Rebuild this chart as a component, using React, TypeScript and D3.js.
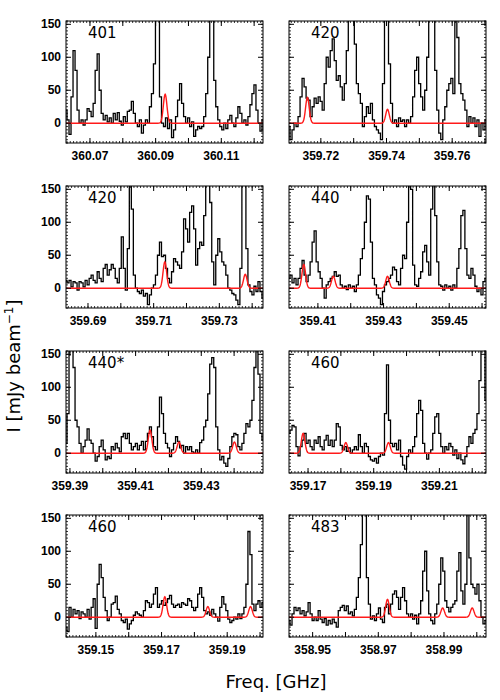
import React from 'react';
import * as d3 from 'd3';

// ---------- data ----------
const SPAN = 0.06; // GHz covered by each panel
const Y_MIN = -30;
const Y_MAX = 155;

const panelLabels = ['401', '420', '420', '440', '440*', '460', '460', '483'];
const panelStart = [360.0627, 359.7103, 359.6833, 359.4012, 359.3888, 359.1642, 359.1409, 358.9428];
const xTickLabels = [
  [360.07, 360.09, 360.11],
  [359.72, 359.74, 359.76],
  [359.69, 359.71, 359.73],
  [359.41, 359.43, 359.45],
  [359.39, 359.41, 359.43],
  [359.17, 359.19, 359.21],
  [359.15, 359.17, 359.19],
  [358.95, 358.97, 358.99],
];
const yTickLabels = [0, 50, 100, 150];

const spec401 = [20, 5, -17, 40, 110, 80, 20, 0, 5, -3, 5, 22, 18, 10, 30, 80, 105, 50, 15, 5, 12, 2, 8, 0, 15, 5, 16, 3, -3, 10, 2, 18, 20, 33, 15, 0, -5, 5, -15, -3, 5, 0, 25, 45, 90, 170, 170, 40, 0, -5, 8, -8, 5, -22, -10, 10, 35, 60, 30, 10, 0, 8, -5, 2, -20, -10, -5, -8, -5, 10, 45, 100, 170, 170, 65, 25, 5, -5, -10, 0, -8, 5, 12, 0, -5, 8, 25, 15, 0, 5, -3, 10, 28, 45, 58, 20, 0, -12, 5];
const spec420a = [-5, -25, -10, 0, -5, 10, 40, 68, 55, 38, 35, 10, 25, 38, 30, 40, 33, 20, 60, 100, 85, 110, 128, 95, 65, 72, 55, 35, 60, 110, 170, 170, 170, 120, 60, 45, 30, -5, 10, 25, 15, 30, 5, -5, -10, -15, -25, 60, 170, 170, 90, 30, 0, 5, -5, 8, 3, 5, -5, 5, 0, 10, 40, 80, 100, 60, 40, 20, 50, 100, 170, 170, 170, 80, 20, -15, -25, 5, 25, 50, 60, 68, 45, 170, 130, 60, 45, 35, 20, -5, 10, 0, 8, -5, 5, -20, 0, -10, 5];
const spec420b = [12, 8, 12, 2, 10, 8, -3, 10, 8, 2, 12, 5, 15, 20, 12, 8, 25, 15, 10, 30, 36, 20, 28, 36, 30, 15, 8, 30, 78, 30, -3, 60, 170, 120, 20, 0, -5, -8, -3, -12, -8, -25, -10, 0, 5, 20, 50, 70, 48, 50, 30, 15, 8, 25, 45, 40, 35, 30, 55, 105, 90, 70, 115, 125, 90, 35, 60, 70, 65, 110, 170, 170, 130, 40, 5, 50, 75, 55, 40, 35, 20, 0, -3, -8, -10, -18, -25, 30, 170, 170, 60, 5, -5, -10, 3, -5, 10, -5, -15];
const spec440a = [15, 20, 8, 15, 5, 15, 30, 42, 20, 10, 20, 40, 70, 87, 40, 25, 15, 0, -15, 5, 10, 15, 18, 25, 18, 20, 5, 0, 3, -2, 5, 0, 3, -5, 5, 20, 45, 60, 100, 140, 135, 70, 15, 5, -10, -15, -25, -5, 5, 10, 15, 20, 32, 28, 10, 5, 30, 50, 45, 100, 170, 150, 35, 5, 3, 15, 25, 55, 65, 40, 20, 120, 170, 110, 40, 5, 3, -3, 5, 0, 3, -3, 5, 0, 30, 60, 110, 118, 60, 20, 15, 30, 20, 3, -5, 0, -10, 10, 15];
const spec440b = [15, 60, 170, 170, 130, 50, 40, 15, 0, 10, 20, 37, 20, 15, 0, -12, -5, 10, 20, 5, -10, -5, -8, 10, 5, 15, 8, 2, 25, 30, 22, 30, 15, 5, 10, 15, 5, 12, 18, 5, 18, 30, 40, 25, 10, 5, 40, 85, 60, 30, 15, 8, -5, 5, 15, 25, 18, 8, 12, 0, 10, 5, 10, 2, 0, 5, 0, 16, 20, 40, 50, 90, 135, 145, 130, 40, 5, -10, -5, -15, -20, -8, 10, 25, 30, 28, 10, 5, 15, 30, 45, 40, 50, 80, 130, 170, 120, 30, 20];
const spec460a = [30, 35, 42, 40, 10, -4, 10, 20, 30, 15, 20, 10, 5, 20, 15, 25, 10, 5, 20, 27, 12, 20, 10, 20, 45, 40, 12, 5, 10, 3, 8, 0, 5, 10, 5, 28, 10, 0, 15, 10, -5, -10, -12, -8, -15, -5, 0, -3, 60, 134, 50, 15, 10, 15, 5, 20, -5, -18, -24, -5, 5, 0, 10, 25, 60, 80, 65, 15, 0, -9, 0, 5, 30, 55, 60, 30, 10, 0, 10, 5, 15, 10, -3, 5, -8, 0, -10, -16, -5, 10, 25, 15, 30, 36, 60, 110, 170, 170, 80];
const spec460b = [-15, -22, 15, 0, 12, 5, 10, -2, 8, 5, 0, 12, -3, 15, 28, -17, 50, 80, 60, 30, 10, -5, 0, 20, 22, 32, 12, 5, -5, -8, -3, -18, -10, -5, 3, 8, 5, 3, 0, 10, 25, 22, 15, 20, 35, 45, 15, 20, 25, 18, 22, 28, 33, 20, 15, 18, 20, 15, 22, 20, 18, 28, 25, 15, 10, 15, 35, 45, 30, 10, 5, 8, 3, 12, 5, 0, -6, 15, 31, 20, 10, -3, -8, -5, 0, -3, 5, -2, 5, 15, 50, 130, 95, 20, 10, 20, 25, 15, 22];
const spec483 = [-5, -12, 5, 15, 10, 14, 5, 10, 2, 8, 22, 5, -5, 0, -5, 10, -3, -8, -2, -12, -5, -10, -3, -8, -15, 10, 15, 18, 10, 17, 5, 8, 2, 12, 30, 60, 110, 170, 160, 60, 20, -3, 2, -5, 5, 14, -3, -8, 15, 20, 5, 20, 35, 40, 30, 12, 30, 45, 25, 5, 0, 5, -3, 3, -10, 5, 25, 70, 100, 40, 5, -5, -10, 5, 20, 50, 90, 70, 25, 15, 8, 15, 20, 25, 70, 98, 40, 20, 50, 170, 90, 50, 45, 35, 50, 25, 0, -10, -5];
const spectra = [spec401, spec420a, spec420b, spec440a, spec440b, spec460a, spec460b, spec483];

// red model lines: centres (GHz) and peak intensities (mJy/beam)
const lineCenters = [
  [360.0929],
  [359.7159, 359.7403],
  [359.7134, 359.7379],
  [359.4057, 359.4147, 359.4312],
  [359.4144, 359.4232, 359.4401],
  [359.1685, 359.1815, 359.1945],
  [359.1710, 359.1841, 359.1971],
  [358.9728, 358.9896, 358.9986],
];
const linePeaks = [
  [44],
  [39, 21],
  [40, 21],
  [36, 18, 18],
  [35, 17, 17],
  [30, 16, 16],
  [31, 16, 16],
  [27, 14, 14],
];
const LINE_SIGMA = 0.00055;

// ---------- layout ----------
const colX = [66, 289];
const PW = 197;
const rowY = [21, 186, 351, 515];
const PH = 122;

const tickFont = "'Liberation Sans', Arial, sans-serif";
const labelFont = "'DejaVu Sans', sans-serif";

function Panel({ idx }: { idx: number }) {
  const col = idx % 2;
  const row = Math.floor(idx / 2);
  const left = colX[col];
  const top = rowY[row];
  const f0 = panelStart[idx];
  const x = d3.scaleLinear().domain([f0, f0 + SPAN]).range([left, left + PW]);
  const y = d3.scaleLinear().domain([Y_MIN, Y_MAX]).range([top + PH, top]);
  const vals = spectra[idx];
  const n = vals.length;
  const pts: [number, number][] = vals.map((v, i) => [f0 + (i * SPAN) / (n - 1), v]);
  const specPath = d3
    .line<[number, number]>()
    .x((d) => x(d[0]))
    .y((d) => y(d[1]))
    .curve(d3.curveStep)(pts) as string;

  const modelPts: [number, number][] = d3.range(0, 601).map((k) => {
    const f = f0 + (k * SPAN) / 600;
    let s = 0;
    lineCenters[idx].forEach((c, j) => {
      s += linePeaks[idx][j] * Math.exp(-0.5 * ((f - c) / LINE_SIGMA) ** 2);
    });
    return [f, s];
  });
  const modelPath = d3
    .line<[number, number]>()
    .x((d) => x(d[0]))
    .y((d) => y(d[1]))(modelPts) as string;

  const majX = d3.range(Math.ceil(f0 / 0.01 - 1e-6), Math.floor((f0 + SPAN) / 0.01 + 1e-6) + 1).map((k) => k * 0.01);
  const minX = d3.range(Math.ceil(f0 / 0.001 - 1e-6), Math.floor((f0 + SPAN) / 0.001 + 1e-6) + 1).map((k) => k * 0.001);
  const majY = yTickLabels;
  const minY = d3.range(-30, 156, 5);
  const clipId = `clip${idx}`;

  return (
    <g>
      <defs>
        <clipPath id={clipId}>
          <rect x={left} y={top} width={PW} height={PH} />
        </clipPath>
      </defs>
      <g clipPath={`url(#${clipId})`}>
        <path d={specPath} fill="none" stroke="#000" strokeWidth={1.3} />
        <path d={modelPath} fill="none" stroke="#ff1a1a" strokeWidth={1.4} />
      </g>
      <rect x={left} y={top} width={PW} height={PH} fill="none" stroke="#000" strokeWidth={1} />
      {minX.map((f, i) => (
        <g key={`mx${i}`}>
          <line x1={x(f)} x2={x(f)} y1={top + PH} y2={top + PH - 2} stroke="#000" strokeWidth={0.8} />
          <line x1={x(f)} x2={x(f)} y1={top} y2={top + 2} stroke="#000" strokeWidth={0.8} />
        </g>
      ))}
      {majX.map((f, i) => (
        <g key={`Mx${i}`}>
          <line x1={x(f)} x2={x(f)} y1={top + PH} y2={top + PH - 5} stroke="#000" strokeWidth={1} />
          <line x1={x(f)} x2={x(f)} y1={top} y2={top + 5} stroke="#000" strokeWidth={1} />
        </g>
      ))}
      {minY.map((v, i) => (
        <g key={`my${i}`}>
          <line x1={left} x2={left + 2} y1={y(v)} y2={y(v)} stroke="#000" strokeWidth={0.8} />
          <line x1={left + PW} x2={left + PW - 2} y1={y(v)} y2={y(v)} stroke="#000" strokeWidth={0.8} />
        </g>
      ))}
      {majY.map((v, i) => (
        <g key={`My${i}`}>
          <line x1={left} x2={left + 5} y1={y(v)} y2={y(v)} stroke="#000" strokeWidth={1} />
          <line x1={left + PW} x2={left + PW - 5} y1={y(v)} y2={y(v)} stroke="#000" strokeWidth={1} />
          {col === 0 && (
            <text x={left - 5} y={y(v) + 4} textAnchor="end" fontFamily={tickFont} fontWeight="bold" fontSize={12}>
              {v}
            </text>
          )}
        </g>
      ))}
      {xTickLabels[idx].map((f, i) => (
        <text key={`xl${i}`} x={x(f)} y={top + PH + 17} textAnchor="middle" fontFamily={tickFont} fontWeight="bold" fontSize={12}>
          {f.toFixed(2)}
        </text>
      ))}
      <text x={left + 22} y={top + 17} fontFamily={labelFont} fontSize={15}>
        {panelLabels[idx]}
      </text>
    </g>
  );
}

export default function App() {
  return (
    <svg width={500} height={700} style={{ position: 'absolute', left: 0, top: 0, background: '#fff' }}>
      <rect x={0} y={0} width={500} height={700} fill="#fff" />
      {spectra.map((_, i) => (
        <Panel key={i} idx={i} />
      ))}
      <text x={276} y={688} textAnchor="middle" fontFamily={labelFont} fontSize={18}>
        Freq. [GHz]
      </text>
      <text transform="translate(20,366) rotate(-90)" textAnchor="middle" fontFamily={labelFont} fontSize={18}>
        I [mJy beam
        <tspan fontSize={12} dy={-7}>−1</tspan>
        <tspan dy={7}>]</tspan>
      </text>
    </svg>
  );
}
